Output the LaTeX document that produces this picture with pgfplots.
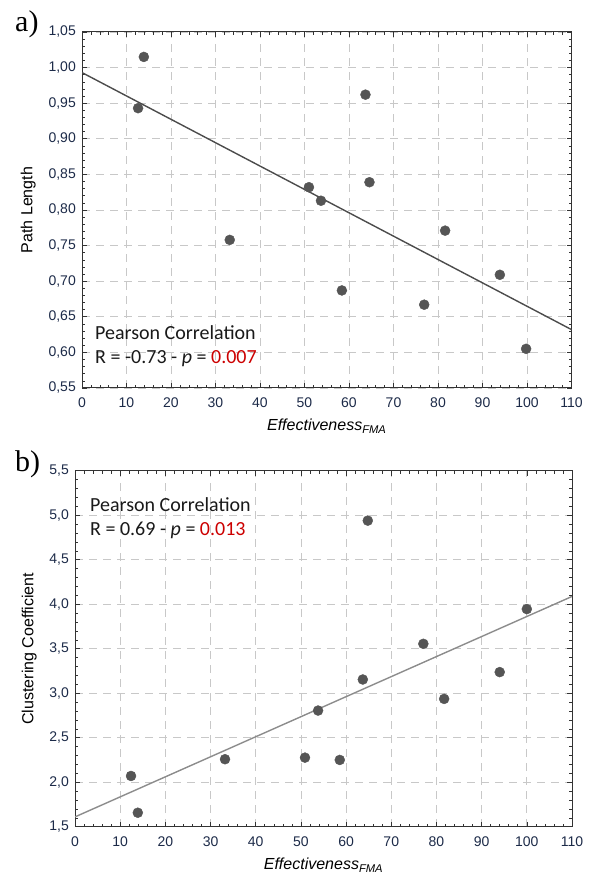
\documentclass[border=0pt]{standalone}
\usepackage{fontspec}
\setmainfont{Liberation Sans}
\newfontfamily\calibri{Carlito}
\newfontfamily\serifpanel{Liberation Serif}
\usepackage{pgfplots}
\pgfplotsset{compat=1.18}

\definecolor{dotgray}{HTML}{555555}
\definecolor{ticknavy}{HTML}{1C2A48}
\definecolor{gridgray}{HTML}{C8C8C8}
\definecolor{pred}{HTML}{CC0000}

\pgfplotstableread{
x     y
12.6  0.943
13.9  1.015
33.2  0.758
51.0  0.832
53.7  0.813
58.4  0.687
63.7  0.962
64.6  0.839
76.9  0.667
81.6  0.771
93.9  0.709
99.8  0.605
}\pathlength

\pgfplotstableread{
x     y
12.4  2.07
13.9  1.657
33.2  2.258
50.9  2.276
53.8  2.805
58.6  2.25
63.7  3.154
64.8  4.939
77.1  3.555
81.7  2.936
94.0  3.237
100.0 3.945
}\clustering

\pgfplotsset{panel/.style={
    scale only axis,
    xmin=0, xmax=110,
    xtick={0,10,...,110},
    minor x tick num=4, minor y tick num=4,
    tick align=inside,
    major tick length=5bp, minor tick length=3bp,
    grid=major,
    major grid style={gridgray, dash pattern=on 8bp off 6bp, line width=0.8bp},
    axis line style={line width=1bp, black!80},
    every tick/.style={black!80, line width=0.6bp},
    tick label style={font=\fontsize{14bp}{16bp}\selectfont, color=ticknavy},
    /pgf/number format/assume math mode=true,
    xticklabel style={inner sep=0pt, anchor=north, yshift=-10bp},
    yticklabel style={inner sep=0pt, anchor=east, xshift=-6bp},
    label style={font=\fontsize{16bp}{18bp}\selectfont, color=black},
    xlabel={\itshape Effectiveness\textsubscript{FMA}},
    xlabel style={at={(axis description cs:0.5,0)}, anchor=north, inner sep=0pt, yshift=-31bp},
  },
  dots/.style={only marks, mark=*, mark size=5bp, mark options={fill=dotgray, draw=dotgray}},
}
\tikzset{note/.style={anchor=base west, inner sep=0pt, text=black!90, font=\calibri\fontsize{20bp}{22bp}\selectfont}}

\begin{document}
\begin{tikzpicture}
\path[use as bounding box] (0,0) rectangle (593bp,874bp);

% a) path length
\begin{axis}[panel,
    at={(82bp,486bp)}, anchor=south west,
    width=489.5bp, height=356bp,
    ymin=0.55, ymax=1.05,
    ytick={0.55,0.6,0.65,0.7,0.75,0.8,0.85,0.9,0.95,1.0,1.05},
    yticklabel style={/pgf/number format/.cd, fixed, fixed zerofill, precision=2, use comma},
    ylabel={Path Length},
    ylabel style={at={(axis description cs:-0.094,0.5)}, anchor=south, inner sep=0pt},
  ]
  \addplot[no marks, color=black!70, line width=1.4bp] coordinates {(0,0.993) (110,0.632)};
  \addplot[dots] table {\pathlength};
  \node[note] at (axis description cs:0.0266,0.1368) {Pearson Correlation};
  \node[note] at (axis description cs:0.0266,0.0694) {R = -0.73 - {\itshape p} = \textcolor{pred}{0.007}};
\end{axis}

% b) clustering coefficient
\begin{axis}[panel,
    at={(75bp,47.3bp)}, anchor=south west,
    width=497bp, height=356bp,
    ymin=1.5, ymax=5.5,
    ytick={1.5,2,...,5.5},
    yticklabel style={/pgf/number format/.cd, fixed, fixed zerofill, precision=1, use comma},
    ylabel={Clustering Coefficient},
    ylabel style={at={(axis description cs:-0.0765,0.5)}, anchor=south, inner sep=0pt},
  ]
  \addplot[no marks, color=black!45, line width=1.4bp] coordinates {(0,1.61) (110,4.087)};
  \addplot[dots] table {\clustering};
  \node[note] at (axis description cs:0.0302,0.885) {Pearson Correlation};
  \node[note] at (axis description cs:0.0302,0.8166) {R = 0.69 - {\itshape p} = \textcolor{pred}{0.013}};
\end{axis}

\node[anchor=base west, inner sep=0pt, font=\serifpanel\fontsize{30bp}{30bp}\selectfont] at (15bp,842bp) {a)};
\node[anchor=base west, inner sep=0pt, font=\serifpanel\fontsize{30bp}{30bp}\selectfont] at (15bp,402bp) {b)};
\end{tikzpicture}
\end{document}
